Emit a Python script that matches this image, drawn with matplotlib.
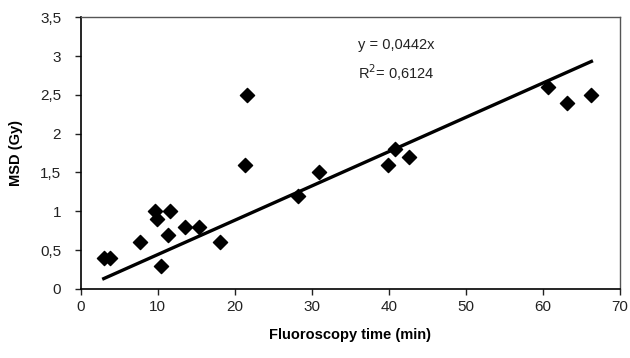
import matplotlib
matplotlib.use("Agg")
import matplotlib.pyplot as plt
from matplotlib.ticker import FuncFormatter

plt.rcParams['font.family'] = ['Liberation Sans', 'DejaVu Sans']

# fluoroscopy time (min) and MSD (Gy)
time_min = [3.0, 3.8, 7.7, 9.7, 9.9, 10.4, 11.3, 11.6, 13.5, 15.4, 18.1,
            21.3, 21.6, 28.2, 31.0, 39.9, 40.8, 42.6, 60.6, 63.1, 66.3]
msd_gy = [0.4, 0.4, 0.6, 1.0, 0.9, 0.3, 0.7, 1.0, 0.8, 0.8, 0.6,
          1.6, 2.5, 1.2, 1.5, 1.6, 1.8, 1.7, 2.6, 2.4, 2.5]
slope = 0.0442
r2_text = "0,6124"

x_ticks = [0, 10, 20, 30, 40, 50, 60, 70]
y_ticks = [0, 0.5, 1, 1.5, 2, 2.5, 3, 3.5]

fig = plt.figure(figsize=(6.3, 3.58), dpi=100)
ax = fig.add_axes([0.128, 0.193, 0.856, 0.759])

ax.scatter(time_min, msd_gy, marker='D', s=52, color='black', zorder=3)

# trendline through origin, drawn over the data range
x0, x1 = min(time_min), max(time_min)
ax.plot([x0, x1], [slope * x0, slope * x1], color='black', lw=2.4, zorder=2)

ax.text(36.0, 3.14, "y = 0,0442x", fontsize=10.5, va='center', color='#222222')
ax.text(36.0, 2.79, "R$^2$= " + r2_text, fontsize=10.5, va='center', color='#222222')

ax.set_xlim(0, 70)
ax.set_ylim(0, 3.5)
ax.set_xticks(x_ticks)
ax.set_yticks(y_ticks)

def comma(v, pos):
    s = ('%g' % v).replace('.', ',')
    return s

ax.yaxis.set_major_formatter(FuncFormatter(comma))
ax.xaxis.set_major_formatter(FuncFormatter(comma))
ax.tick_params(direction='out', length=4, width=1, labelsize=11, colors='#222222')
ax.tick_params(axis='x', pad=4)
ax.tick_params(axis='y', pad=10)

ax.set_xlabel("Fluoroscopy time (min)", fontsize=10.5, fontweight='bold', labelpad=10)
ax.set_ylabel("MSD (Gy)", fontsize=10.5, fontweight='bold', labelpad=12)

for side in ['left', 'bottom']:
    ax.spines[side].set_color('black')
    ax.spines[side].set_linewidth(1.2)
for side in ['top', 'right']:
    ax.spines[side].set_color('#555555')
    ax.spines[side].set_linewidth(1.0)

fig.savefig("out.png", dpi=100)
